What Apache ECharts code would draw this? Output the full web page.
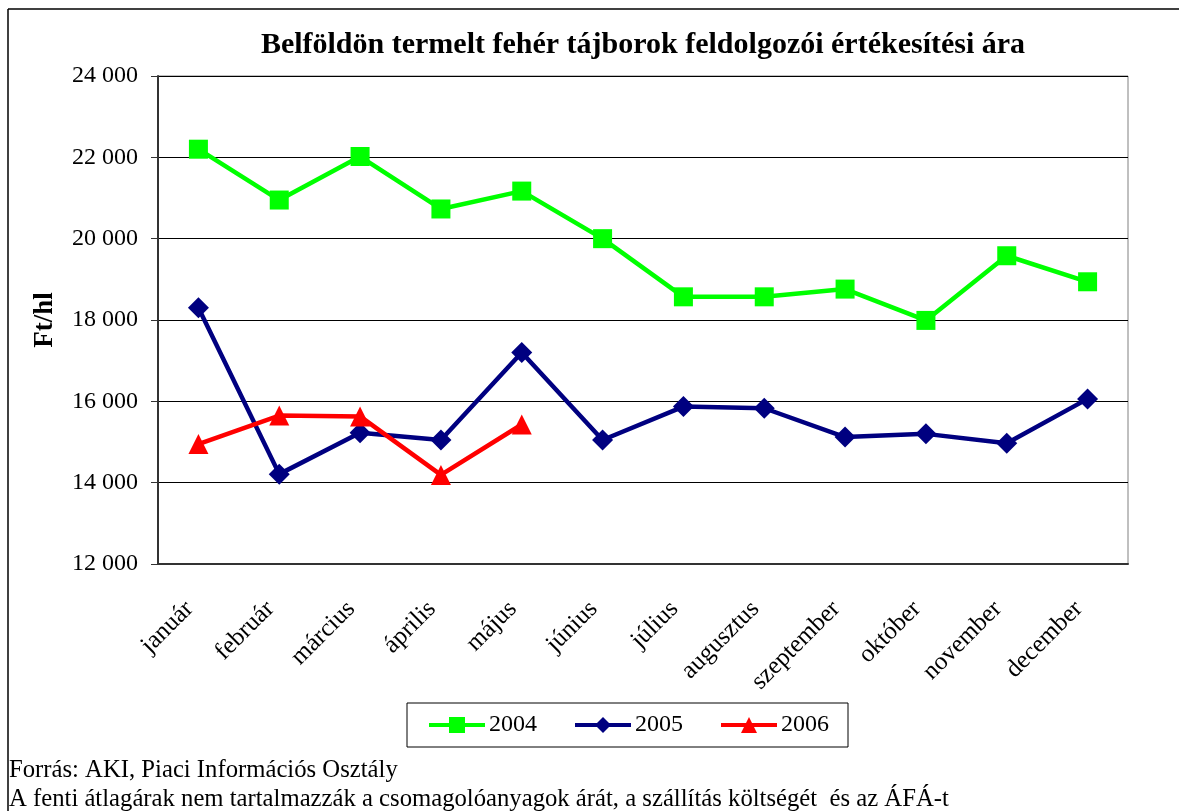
<!DOCTYPE html>
<html>
<head>
<meta charset="utf-8">
<script src="https://cdn.jsdelivr.net/npm/echarts@6/dist/echarts.min.js"></script>
<style>
  html, body { margin: 0; padding: 0; background: #fff; }
  #main { width: 1179px; height: 811px; }
</style>
</head>
<body>
<div id="main"></div>
<script>
// adatok
const honapok = ["január", "február", "március", "április", "május", "június",
  "július", "augusztus", "szeptember", "október", "november", "december"];
const ev2004 = [22200, 20950, 22020, 20730, 21170, 20000, 18570, 18570, 18760, 17990, 19580, 18940];
const ev2005 = [18300, 14210, 15230, 15050, 17200, 15050, 15870, 15830, 15120, 15200, 14970, 16060];
const ev2006 = [14950, 15650, 15630, 14190, 15430, null, null, null, null, null, null, null];

const FONT = "'Liberation Serif', 'Times New Roman', serif";

// ezres tagolás szóközzel
const ezres = (v) => String(v).replace(/\B(?=(\d{3})+(?!\d))/g, " ");

const chart = echarts.init(document.getElementById("main"));

const sorozat = (nev, adat, szin, jel, meret) => ({
  name: nev,
  type: "line",
  data: adat,
  symbol: jel,
  symbolSize: meret,
  connectNulls: false,
  itemStyle: { color: szin },
  lineStyle: { color: szin, width: 4.5 },
  animation: false
});

chart.setOption({
  backgroundColor: "#fff",
  textStyle: { fontFamily: FONT },
  grid: {
    left: 158, top: 76, right: 51, bottom: 247,
    show: true, borderColor: "#808080", borderWidth: 1
  },
  legend: {
    left: 407, top: 703,
    padding: [10, 19, 10, 20],
    borderColor: "#000", borderWidth: 1,
    itemWidth: 56, itemHeight: 20, itemGap: 36,
    lineStyle: { width: 4 },
    textStyle: { fontFamily: FONT, fontSize: 24, color: "#000", padding: [0, 0, 0, -1] },
    data: ["2004", "2005", "2006"]
  },
  xAxis: {
    type: "category",
    data: honapok,
    boundaryGap: true,
    axisLine: { lineStyle: { color: "#333", width: 2 } },
    axisTick: { length: 7, lineStyle: { color: "#333" } },
    axisLabel: {
      rotate: 45, margin: 50, verticalAlign: "bottom",
      fontFamily: FONT, fontSize: 25, color: "#000"
    },
    splitLine: { show: false }
  },
  yAxis: {
    type: "value",
    min: 12000, max: 24000, interval: 2000,
    name: "Ft/hl",
    nameLocation: "middle",
    nameGap: 99,
    nameTextStyle: { fontFamily: FONT, fontSize: 27, fontWeight: "bold", color: "#000" },
    axisLine: { show: true, lineStyle: { color: "#333", width: 2 } },
    axisTick: { show: true, length: 7, lineStyle: { color: "#333" } },
    axisLabel: { margin: 20, fontFamily: FONT, fontSize: 24, color: "#000", formatter: ezres },
    splitLine: { lineStyle: { color: "#000", width: 1 } }
  },
  series: [
    sorozat("2004", ev2004, "#00ff00", "rect", 19),
    sorozat("2005", ev2005, "#000080", "diamond", 21),
    sorozat("2006", ev2006, "#ff0000", "triangle", 20)
  ],
  graphic: [
    { type: "line", shape: { x1: 8, y1: 9, x2: 1179, y2: 9 }, style: { stroke: "#000", lineWidth: 1.5 } },
    { type: "line", shape: { x1: 8, y1: 9, x2: 8, y2: 811 }, style: { stroke: "#000", lineWidth: 1.5 } },
    {
      type: "text", x: 643, y: 45,
      style: {
        text: "Belföldön termelt fehér tájborok feldolgozói értékesítési ára",
        font: "bold 30px " + FONT, fill: "#000",
        textAlign: "center", textVerticalAlign: "middle", align: "center", verticalAlign: "middle"
      }
    },
    {
      type: "text", x: 9, y: 771,
      style: {
        text: "Forrás: AKI, Piaci Információs Osztály",
        font: "24.7px " + FONT, fill: "#000",
        textVerticalAlign: "middle", verticalAlign: "middle"
      }
    },
    {
      type: "text", x: 9, y: 800,
      style: {
        text: "A fenti átlagárak nem tartalmazzák a csomagolóanyagok árát, a szállítás költségét  és az ÁFÁ-t",
        font: "24.7px " + FONT, fill: "#000",
        textVerticalAlign: "middle", verticalAlign: "middle"
      }
    }
  ]
});
</script>
</body>
</html>
